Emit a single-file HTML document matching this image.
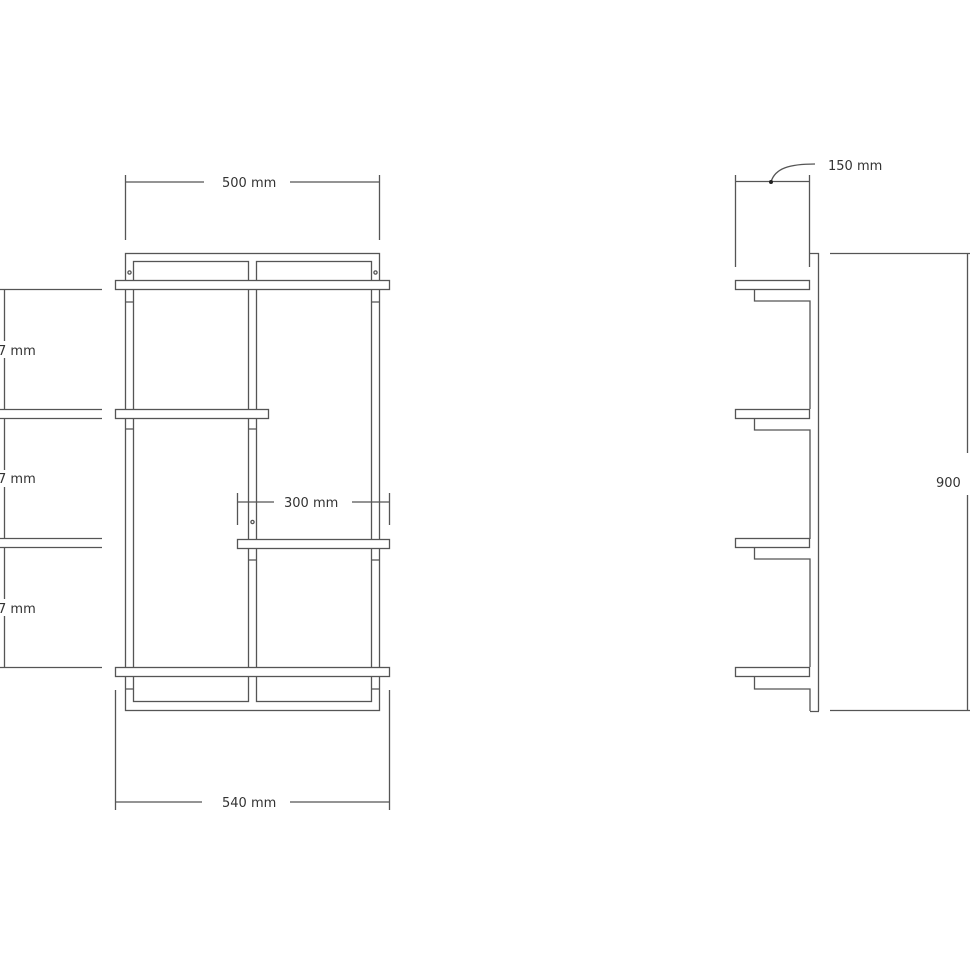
<!DOCTYPE html>
<html><head><meta charset="utf-8"><style>
body{margin:0;background:#fff}
svg{display:block}
text{font-family:"DejaVu Sans","Liberation Sans",sans-serif;font-size:13px;fill:#333}
</style></head><body>
<svg width="970" height="971" viewBox="0 0 970 971" xmlns="http://www.w3.org/2000/svg">
<g fill="none" stroke="#555" stroke-width="1.3">
<!-- front view frame -->
<rect x="125.5" y="253.5" width="254" height="457"/>
<rect x="133.5" y="261.5" width="115" height="440"/>
<rect x="256.5" y="261.5" width="115" height="440"/>
<circle cx="129.5" cy="272.5" r="1.6"/>
<circle cx="375.5" cy="272.5" r="1.6"/>
<circle cx="252.5" cy="522" r="1.6"/>
<!-- shelves -->
<rect x="115.5" y="280.5" width="274" height="9" fill="#fff"/>
<rect x="115.5" y="409.5" width="153" height="9" fill="#fff"/>
<rect x="237.5" y="539.5" width="152" height="9" fill="#fff"/>
<rect x="115.5" y="667.5" width="274" height="9" fill="#fff"/>
<!-- small ticks -->
<path d="M125 302h8M372 302h8M125 429h8M248 429h8M248 560h8M372 560h8M125 689h8M372 689h8"/>
<!-- 500 dim -->
<path d="M125.5 175v65M379.5 175v65M126 182h78M290 182h89"/>
<!-- 540 dim -->
<path d="M115.5 690v120M389.5 690v120M116 802h86M290 802h99"/>
<!-- 300 dim -->
<path d="M237.5 493v32M389.5 493v32M238 502h36M352 502h37"/>
<!-- left dims -->
<path d="M0 289.5h102M0 409.5h102M0 418.5h102M0 538.5h102M0 547.5h102M0 667.5h102"/>
<path d="M4.5 289v120M4.5 418v120M4.5 547v120" stroke="#fff" stroke-width="0"/>
<path d="M4.5 289v52M4.5 358v51M4.5 418v52M4.5 487v51M4.5 547v52M4.5 616v51"/>
<!-- side view -->
<path d="M735.5 175v92M809.5 175v92M736 181.5h73"/>
<path d="M771 182 C775 168 790 164 815 164"/>
<path d="M818.5 253v458M810 253.5h9M810 711.5h9"/>
<path d="M830 253.5h140M830 710.5h140M967.5 253v200M967.5 495v216"/>
<g>
<rect x="735.5" y="280.5" width="74" height="9" fill="#fff"/>
<path d="M754.5 289v12h55.5v108"/>
<rect x="735.5" y="409.5" width="74" height="9" fill="#fff"/>
<path d="M754.5 418v12h55.5v109"/>
<rect x="735.5" y="538.5" width="74" height="9" fill="#fff"/>
<path d="M754.5 547v12h55.5v108"/>
<rect x="735.5" y="667.5" width="74" height="9" fill="#fff"/>
<path d="M754.5 676v13h55.5v22"/>
</g>
</g>
<circle cx="771" cy="182" r="2" fill="#222"/>
<text x="222" y="187">500 mm</text>
<text x="222" y="807">540 mm</text>
<text x="284" y="507">300 mm</text>
<text x="828" y="170">150 mm</text>
<text x="936" y="487">900</text>
<text x="-2" y="355">7 mm</text>
<text x="-2" y="483">7 mm</text>
<text x="-2" y="613">7 mm</text>
</svg>
</body></html>
